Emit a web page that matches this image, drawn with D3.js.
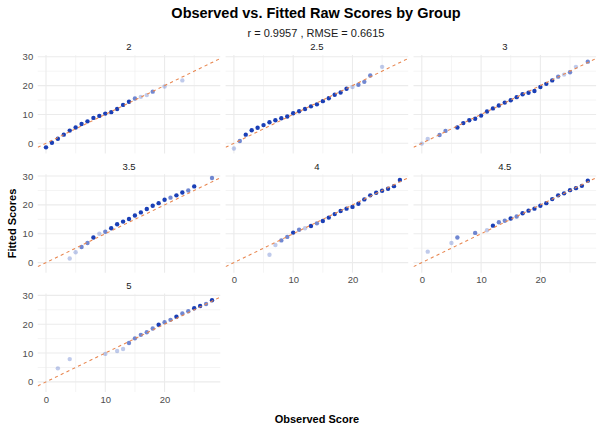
<!DOCTYPE html>
<html>
<head>
<meta charset="utf-8">
<script src="https://cdn.jsdelivr.net/npm/d3@7"></script>
<style>
  body { margin: 0; background: #fff; }
  text { font-family: "Liberation Sans", Arial, sans-serif; }
</style>
</head>
<body>
<svg id="chart" width="600" height="430"></svg>
<script>
// ---- data ----
const groups = ["2", "2.5", "3", "3.5", "4", "4.5", "5"];

const obs_2   = [0,1,2,3,4,5,6,7,8,9,10,11,12,13,14,15,16,17,18,20,23];
const fit_2   = [-1.4,0.2,1.6,3.0,4.4,5.5,6.7,7.6,8.8,9.5,10.3,10.8,11.9,13.3,14.4,15.5,16.1,16.7,17.9,19.7,21.8];
const wt_2    = [3,3,3,3,3,3,3,3,3,3,3,3,3,3,3,2,1,1,2,1,1];

const obs_2_5 = [0,1,2,3,4,5,6,7,8,9,10,11,12,13,14,15,16,17,18,19,20,21,22,23,25];
const fit_2_5 = [-1.8,0.8,3.0,4.5,5.4,6.3,7.3,8.0,8.7,9.3,10.4,11.1,11.9,12.8,13.5,14.6,15.6,16.8,17.6,18.9,19.5,20.3,21.3,23.5,26.5];
const wt_2_5  = [1,2,3,3,3,3,3,3,3,3,3,3,3,3,3,3,3,3,3,3,1,2,2,2,1];

const obs_3   = [0,1,3,4,6,7,8,9,10,11,12,13,14,15,16,17,18,19,20,21,22,23,24,25,26,28];
const fit_3   = [-0.1,1.5,2.9,4.3,5.5,7.0,8.0,8.5,9.6,11.0,12.1,13.1,14.1,14.9,16.0,17.0,17.5,18.1,19.5,20.6,21.8,23.1,23.8,24.6,26.5,28.3];
const wt_3    = [1,1,2,2,3,3,3,3,3,3,3,3,3,3,3,3,3,3,3,3,3,2,1,2,1,2];

const obs_3_5 = [4,5,6,7,8,9,10,11,12,13,14,15,16,17,18,19,20,21,22,23,24,25,28];
const fit_3_5 = [1.4,3.6,5.4,6.8,8.7,10.0,10.7,11.9,13.3,14.2,15.1,16.3,17.4,18.6,19.7,20.6,21.8,22.5,23.3,24.3,25.0,26.4,29.3];
const wt_3_5  = [1,1,2,2,3,1,2,3,3,3,3,3,3,3,3,3,3,2,3,3,2,3,2];

const obs_4   = [6,7,8,9,10,11,12,13,14,15,16,17,18,19,20,21,22,23,24,25,26,27,28];
const fit_4   = [2.7,6.1,7.7,8.9,10.4,11.4,11.9,12.7,13.6,14.4,15.6,16.8,17.9,18.7,19.3,20.4,21.9,23.3,24.2,24.9,25.6,26.5,28.6];
const wt_4    = [1,1,2,2,3,2,1,3,2,3,3,3,3,3,3,3,3,3,3,3,3,3,3];

const obs_4_5 = [1,5,6,9,11,12,13,14,15,16,17,18,19,20,21,22,23,24,25,26,27,28];
const fit_4_5 = [3.8,6.8,8.7,10.3,11.2,12.8,14.0,14.5,15.3,16.0,17.1,18.0,18.7,19.7,20.6,22.0,23.3,24.0,25.1,25.8,26.6,28.4];
const wt_4_5  = [1,1,2,2,1,3,2,2,3,2,3,3,3,3,3,3,3,3,3,3,3,3];

const obs_5   = [2,4,10,12,13,14,15,16,17,18,19,20,21,22,23,24,25,26,27,28];
const fit_5   = [4.7,7.9,9.7,10.7,11.4,13.5,15.1,16.3,17.2,18.5,19.8,20.7,21.5,22.6,23.7,24.5,25.5,26.3,27.0,28.3];
const wt_5    = [1,1,1,1,1,2,2,2,2,2,3,2,2,3,2,2,3,3,2,3];

const xTicks = [0, 10, 20];
const yTicks = [0, 10, 20, 30];
const xMinor = [5, 15, 25];
const yMinor = [5, 15, 25];

const titleText = "Observed vs. Fitted Raw Scores by Group";
const subtitleText = "r = 0.9957 , RMSE = 0.6615";
const xTitle = "Observed Score";
const yTitle = "Fitted Scores";

const panelData = {
  "2":   {obs: obs_2,   fit: fit_2,   wt: wt_2},
  "2.5": {obs: obs_2_5, fit: fit_2_5, wt: wt_2_5},
  "3":   {obs: obs_3,   fit: fit_3,   wt: wt_3},
  "3.5": {obs: obs_3_5, fit: fit_3_5, wt: wt_3_5},
  "4":   {obs: obs_4,   fit: fit_4,   wt: wt_4},
  "4.5": {obs: obs_4_5, fit: fit_4_5, wt: wt_4_5},
  "5":   {obs: obs_5,   fit: fit_5,   wt: wt_5}
};

// ---- layout ----
const svg = d3.select("#chart");
const ncol = 3;
const left = 37.7, panelW = 182.6, gapX = 5.3;
const top0 = 55, panelH = 98.4, rowStep = 119.3;
const xDomain = [-1.4, 29.4];
const yDomain = [-3.5, 30.6];

const x = d3.scaleLinear().domain(xDomain).range([0, panelW]);
const y = d3.scaleLinear().domain(yDomain).range([panelH, 0]);
const alpha = d3.scaleOrdinal().domain([1, 2, 3]).range([0.28, 0.62, 1]);

const gridCol = "#ebebeb";
const pointCol = "#1a3fb6";
const lineCol = "#e8864f";

// title
svg.append("text").attr("x", 316).attr("y", 17.5).attr("text-anchor", "middle")
  .attr("font-size", 14.5).attr("font-weight", "bold").attr("fill", "#000").text(titleText);
svg.append("text").attr("x", 316).attr("y", 36.5).attr("text-anchor", "middle")
  .attr("font-size", 11).attr("fill", "#1a1a1a").text(subtitleText);

const nrow = Math.ceil(groups.length / ncol);

groups.forEach((gname, i) => {
  const col = i % ncol, row = Math.floor(i / ncol);
  const px = left + col * (panelW + gapX);
  const py = top0 + row * rowStep;
  const g = svg.append("g").attr("transform", `translate(${px},${py})`);
  const clipId = "clip" + i;
  g.append("clipPath").attr("id", clipId).append("rect")
    .attr("x", 0).attr("y", 0).attr("width", panelW).attr("height", panelH);

  // minor grid
  g.selectAll(".vminor").data(xMinor).join("line")
    .attr("x1", d => x(d)).attr("x2", d => x(d)).attr("y1", 0).attr("y2", panelH)
    .attr("stroke", gridCol).attr("stroke-width", 0.55);
  g.selectAll(".hminor").data(yMinor).join("line")
    .attr("y1", d => y(d)).attr("y2", d => y(d)).attr("x1", 0).attr("x2", panelW)
    .attr("stroke", gridCol).attr("stroke-width", 0.55);
  // major grid
  g.selectAll(".vmajor").data(xTicks).join("line")
    .attr("x1", d => x(d)).attr("x2", d => x(d)).attr("y1", 0).attr("y2", panelH)
    .attr("stroke", gridCol).attr("stroke-width", 1.1);
  g.selectAll(".hmajor").data(yTicks).join("line")
    .attr("y1", d => y(d)).attr("y2", d => y(d)).attr("x1", 0).attr("x2", panelW)
    .attr("stroke", gridCol).attr("stroke-width", 1.1);

  // strip
  g.append("text").attr("x", panelW / 2).attr("y", -4.6).attr("text-anchor", "middle")
    .attr("font-size", 9.5).attr("fill", "#1a1a1a").text(gname);

  // points
  const pd = panelData[gname];
  const pts = pd.obs.map((o, k) => ({o: o, f: pd.fit[k], w: pd.wt[k]}));
  const pg = g.append("g").attr("clip-path", `url(#${clipId})`);
  pg.selectAll("circle").data(pts).join("circle")
    .attr("cx", d => x(d.o)).attr("cy", d => y(d.f)).attr("r", 2.2)
    .attr("fill", pointCol).attr("fill-opacity", d => alpha(d.w));

  // identity line
  pg.append("line")
    .attr("x1", x(xDomain[0])).attr("y1", y(xDomain[0]))
    .attr("x2", x(xDomain[1])).attr("y2", y(xDomain[1]))
    .attr("stroke", lineCol).attr("stroke-width", 1.05).attr("stroke-dasharray", "3.2,3.2");

  // y axis labels on first column
  if (col === 0) {
    const ya = g.append("g").call(d3.axisLeft(y).tickValues(yTicks).tickSize(0).tickPadding(4.5));
    ya.select(".domain").remove();
    ya.selectAll("text").attr("font-size", 9.5).attr("fill", "#4d4d4d")
      .style("font-family", "'Liberation Sans', Arial, sans-serif");
  }
  // x axis labels where no panel below
  if (i + ncol >= groups.length) {
    const xa = g.append("g").attr("transform", `translate(0,${panelH})`)
      .call(d3.axisBottom(x).tickValues(xTicks).tickSize(0).tickPadding(4));
    xa.select(".domain").remove();
    xa.selectAll("text").attr("font-size", 9.5).attr("fill", "#4d4d4d")
      .style("font-family", "'Liberation Sans', Arial, sans-serif");
  }
});

// axis titles
const plotRight = left + ncol * panelW + (ncol - 1) * gapX;
svg.append("text").attr("x", (left + plotRight) / 2).attr("y", 423)
  .attr("text-anchor", "middle").attr("font-size", 11).attr("font-weight", "bold")
  .attr("fill", "#000").text(xTitle);
const yMid = top0 + ((nrow - 1) * rowStep + panelH) / 2;
svg.append("text").attr("transform", `translate(15.5,${yMid}) rotate(-90)`)
  .attr("text-anchor", "middle").attr("font-size", 11).attr("font-weight", "bold")
  .attr("fill", "#000").text(yTitle);
</script>
</body>
</html>
